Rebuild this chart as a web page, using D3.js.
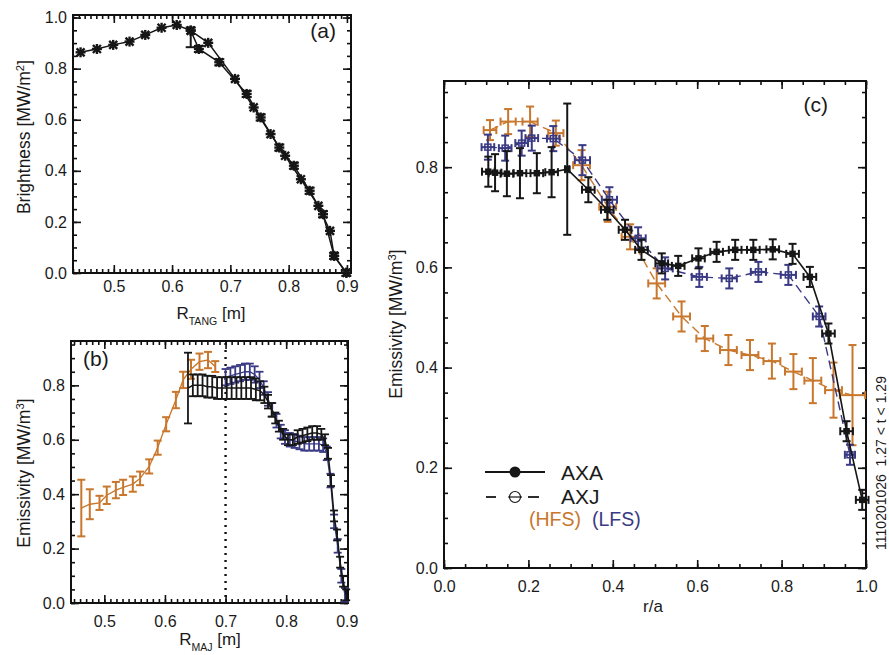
<!DOCTYPE html>
<html><head><meta charset="utf-8">
<script src="https://cdn.jsdelivr.net/npm/d3@7"></script>
<style>
body{margin:0;background:#fff;}
svg{display:block;font-family:"Liberation Sans",Arial,Helvetica,sans-serif;}
</style>
</head><body>
<svg id="chart" width="889" height="655"></svg>
<script>
// ---------------- DATA ----------------
// Panel (a): brightness vs R_TANG
const aXTicks = [0.5, 0.6, 0.7, 0.8, 0.9];
const aYTicks = [0.0, 0.2, 0.4, 0.6, 0.8, 1.0];
const aJx = [0.443,0.471,0.499,0.527,0.554,0.582,0.608,0.632,0.662,0.708,0.740,0.769,0.794,0.821,0.851,0.871,0.878,0.899];
const aJy = [0.864,0.877,0.893,0.906,0.932,0.960,0.971,0.949,0.901,0.760,0.648,0.544,0.459,0.367,0.263,0.165,0.067,0.001];
const aAx = [0.632,0.646,0.681,0.728,0.752,0.784,0.809,0.836,0.859,0.878,0.899];
const aAy = [0.949,0.877,0.825,0.701,0.609,0.491,0.420,0.322,0.230,0.067,0.001];
const aAeLo = [0.065,0.012,0.012,0.012,0.012,0.012,0.012,0.012,0.012,0.012,0.012];
const aAeHi = [0.012,0.012,0.012,0.012,0.012,0.012,0.012,0.012,0.012,0.012,0.012];

// Panel (b): emissivity vs R_MAJ
const bXTicks = [0.5, 0.6, 0.7, 0.8, 0.9];
const bYTicks = [0.0, 0.2, 0.4, 0.6, 0.8];
const bDotted = [0.7];
const bOx = [0.462,0.476,0.492,0.504,0.519,0.531,0.547,0.559,0.574,0.588,0.602,0.618,0.630,0.643,0.657,0.671,0.683];
const bOy = [0.349,0.363,0.368,0.396,0.415,0.425,0.437,0.458,0.502,0.571,0.657,0.746,0.820,0.859,0.887,0.893,0.869];
const bOe = [0.104,0.055,0.026,0.032,0.030,0.028,0.028,0.025,0.026,0.026,0.026,0.030,0.030,0.035,0.030,0.030,0.020];
const bAx = [0.638,0.646,0.654,0.662,0.670,0.678,0.686,0.694,0.702,0.710,0.718,0.726,0.734,0.742,0.750,
             0.757,0.764,0.770,0.776,0.782,0.788,
             0.795,0.803,0.811,0.819,0.827,0.835,0.843,0.851,0.858,
             0.864,0.869,0.874,0.879,0.884,0.889,0.894,0.899];
const bAy = [0.79,0.80,0.80,0.80,0.795,0.795,0.79,0.79,0.79,0.79,0.79,0.79,0.79,0.79,0.785,
             0.78,0.765,0.74,0.71,0.68,0.65,
             0.62,0.60,0.60,0.61,0.615,0.62,0.625,0.625,0.62,
             0.60,0.55,0.45,0.32,0.25,0.15,0.08,0.03];
const bAe = [0.13,0.04,0.04,0.04,0.04,0.04,0.04,0.04,0.04,0.04,0.04,0.04,0.04,0.04,0.04,
             0.035,0.03,0.025,0.025,0.02,0.02,
             0.02,0.02,0.02,0.025,0.025,0.025,0.025,0.025,0.02,
             0.02,0.02,0.02,0.02,0.02,0.02,0.02,0.02];
const bLx = [0.700,0.708,0.716,0.724,0.732,0.740,0.748,0.756,
             0.763,0.770,0.777,0.784,0.791,0.798,
             0.806,0.814,0.822,0.830,0.838,0.846,0.854,0.861,
             0.867,0.873,0.879,0.885,0.891,0.897];
const bLy = [0.83,0.835,0.84,0.845,0.85,0.85,0.84,0.82,
             0.79,0.75,0.71,0.67,0.63,0.61,
             0.60,0.595,0.59,0.585,0.585,0.585,0.585,0.58,
             0.55,0.45,0.30,0.21,0.10,0.03];
const bLe = [0.03,0.03,0.03,0.03,0.03,0.03,0.03,0.03,
             0.025,0.025,0.025,0.025,0.025,0.025,
             0.025,0.025,0.025,0.025,0.025,0.025,0.025,0.025,
             0.025,0.025,0.025,0.025,0.025,0.025];

// Panel (c): emissivity vs r/a
const cXTicks = [0.0, 0.2, 0.4, 0.6, 0.8, 1.0];
const cYTicks = [0.0, 0.2, 0.4, 0.6, 0.8];
const cAx = [0.105,0.121,0.149,0.180,0.220,0.255,0.292,0.342,0.387,0.429,0.468,0.516,0.555,0.603,0.646,0.690,0.733,0.779,0.826,0.867,0.911,0.954,0.991];
const cAy = [0.791,0.789,0.787,0.788,0.788,0.790,0.796,0.755,0.715,0.675,0.635,0.608,0.603,0.618,0.631,0.635,0.635,0.636,0.627,0.581,0.468,0.273,0.136];
const cAe = [0.030,0.037,0.045,0.050,0.040,0.050,0.131,0.025,0.020,0.020,0.020,0.020,0.020,0.020,0.020,0.020,0.020,0.020,0.020,0.020,0.020,0.020,0.020];
const cAxe = [0.015,0.015,0.015,0.015,0.015,0.015,0.005,0.015,0.015,0.015,0.015,0.015,0.015,0.015,0.015,0.015,0.015,0.015,0.015,0.015,0.015,0.015,0.015];
const cJx = [0.104,0.145,0.184,0.208,0.259,0.328,0.392,0.460,0.524,0.605,0.676,0.745,0.816,0.889,0.962];
const cJy = [0.840,0.838,0.848,0.858,0.857,0.814,0.735,0.658,0.598,0.581,0.578,0.591,0.585,0.502,0.226];
const cJe = [0.025,0.025,0.025,0.025,0.025,0.030,0.025,0.022,0.022,0.020,0.020,0.020,0.020,0.020,0.020];
const cJxe = [0.015,0.015,0.015,0.015,0.015,0.018,0.018,0.018,0.018,0.018,0.018,0.018,0.018,0.015,0.012];
const cHx = [0.109,0.152,0.204,0.265,0.326,0.388,0.441,0.504,0.563,0.618,0.674,0.725,0.777,0.828,0.874,0.923,0.968];
const cHy = [0.874,0.891,0.891,0.868,0.804,0.721,0.661,0.568,0.502,0.458,0.435,0.425,0.413,0.392,0.374,0.355,0.345];
const cHe = [0.020,0.025,0.030,0.025,0.030,0.030,0.025,0.030,0.030,0.025,0.030,0.030,0.035,0.035,0.045,0.055,0.100];
const cHxe = [0.015,0.018,0.018,0.018,0.020,0.020,0.020,0.020,0.020,0.020,0.020,0.020,0.020,0.020,0.020,0.020,0.030];

const legendNames = ["AXA", "AXJ"];
const sideNames = ["(HFS)", "(LFS)"];
const shotText = "1110201026  1.27 < t < 1.29";

// ---------------- STYLE ----------------
const ORANGE = "#c8772c", NAVY = "#3a3a84", BLACK = "#161616";
const svg = d3.select("#chart");
const fmt = d3.format(".1f");

function panel(o) {
  const w = o.right - o.left, h = o.bottom - o.top;
  const g = svg.append("g").attr("transform", `translate(${o.left},${o.top})`);
  const x = d3.scaleLinear().domain(o.xd).range([0, w]);
  const y = d3.scaleLinear().domain(o.yd).range([h, 0]);
  const inX = v => v >= o.xd[0] - 1e-9 && v <= o.xd[1] + 1e-9;
  const inY = v => v >= o.yd[0] - 1e-9 && v <= o.yd[1] + 1e-9;
  const xMin = d3.range(Math.ceil(o.xd[0] / o.xMinor), Math.floor(o.xd[1] / o.xMinor) + 1).map(k => +(k * o.xMinor).toFixed(4)).filter(inX);
  const yMin = d3.range(Math.ceil(o.yd[0] / o.yMinor), Math.floor(o.yd[1] / o.yMinor) + 1).map(k => +(k * o.yMinor).toFixed(4)).filter(inY);
  const ax = g.append("g").attr("class", "axes");
  ax.append("g").attr("transform", `translate(0,${h})`).call(d3.axisBottom(x).tickValues(o.xTicks).tickSize(-8).tickPadding(o.padX).tickFormat(fmt));
  ax.append("g").attr("transform", `translate(0,${h})`).call(d3.axisBottom(x).tickValues(xMin).tickSize(-4).tickFormat(""));
  ax.append("g").call(d3.axisTop(x).tickValues(o.xTicks).tickSize(-8).tickFormat(""));
  ax.append("g").call(d3.axisTop(x).tickValues(xMin).tickSize(-4).tickFormat(""));
  ax.append("g").call(d3.axisLeft(y).tickValues(o.yTicks).tickSize(-8).tickPadding(6).tickFormat(fmt));
  ax.append("g").call(d3.axisLeft(y).tickValues(yMin).tickSize(-4).tickFormat(""));
  ax.append("g").attr("transform", `translate(${w},0)`).call(d3.axisRight(y).tickValues(o.yTicks).tickSize(-8).tickFormat(""));
  ax.append("g").attr("transform", `translate(${w},0)`).call(d3.axisRight(y).tickValues(yMin).tickSize(-4).tickFormat(""));
  ax.selectAll(".domain").remove();
  ax.selectAll(".tick line").attr("stroke", "#111").attr("stroke-width", 1.6);
  ax.selectAll(".tick text").attr("font-size", 16).attr("fill", "#1a1a1a")
    .attr("font-family", '"Liberation Sans",Arial,sans-serif');
  g.append("rect").attr("x", 0).attr("y", 0).attr("width", w).attr("height", h)
    .attr("fill", "none").attr("stroke", "#111").attr("stroke-width", 2);
  return {g, x, y, w, h};
}

function line(p, xs, ys, color, sw, dash) {
  const pts = xs.map((v, i) => [v, ys[i]]);
  p.g.append("path").datum(pts)
    .attr("d", d3.line().x(d => p.x(d[0])).y(d => p.y(d[1])))
    .attr("fill", "none").attr("stroke", color).attr("stroke-width", sw)
    .attr("stroke-dasharray", dash || null);
}

function vErr(p, xs, ys, lo, hi, color, cap, sw) {
  const g = p.g.append("g").attr("stroke", color).attr("stroke-width", sw).attr("fill", "none");
  xs.forEach((v, i) => {
    const X = p.x(v), Y1 = p.y(ys[i] - lo[i]), Y2 = p.y(ys[i] + hi[i]);
    g.append("line").attr("x1", X).attr("x2", X).attr("y1", Y1).attr("y2", Y2);
    g.append("line").attr("x1", X - cap).attr("x2", X + cap).attr("y1", Y1).attr("y2", Y1);
    g.append("line").attr("x1", X - cap).attr("x2", X + cap).attr("y1", Y2).attr("y2", Y2);
  });
}

function hErr(p, xs, ys, e, color, cap, sw) {
  const g = p.g.append("g").attr("stroke", color).attr("stroke-width", sw).attr("fill", "none");
  xs.forEach((v, i) => {
    const Y = p.y(ys[i]), X1 = p.x(v - e[i]), X2 = p.x(v + e[i]);
    g.append("line").attr("x1", X1).attr("x2", X2).attr("y1", Y).attr("y2", Y);
    g.append("line").attr("x1", X1).attr("x2", X1).attr("y1", Y - cap).attr("y2", Y + cap);
    g.append("line").attr("x1", X2).attr("x2", X2).attr("y1", Y - cap).attr("y2", Y + cap);
  });
}

function stars(p, xs, ys, color) {
  const g = p.g.append("g").attr("stroke", color).attr("stroke-width", 2.4);
  xs.forEach((v, i) => {
    const X = p.x(v), Y = p.y(ys[i]), r = 5;
    g.append("line").attr("x1", X - r).attr("x2", X + r).attr("y1", Y).attr("y2", Y);
    g.append("line").attr("x1", X - r * 0.8).attr("x2", X + r * 0.8).attr("y1", Y - r * 0.8).attr("y2", Y + r * 0.8);
    g.append("line").attr("x1", X - r * 0.8).attr("x2", X + r * 0.8).attr("y1", Y + r * 0.8).attr("y2", Y - r * 0.8);
    g.append("line").attr("x1", X).attr("x2", X).attr("y1", Y - r).attr("y2", Y + r);
  });
}

function squares(p, xs, ys, color, filled, s) {
  p.g.append("g").selectAll("rect").data(xs).join("rect")
    .attr("x", (d) => p.x(d) - s / 2).attr("y", (d, i) => p.y(ys[i]) - s / 2)
    .attr("width", s).attr("height", s)
    .attr("fill", filled ? color : "none").attr("stroke", color).attr("stroke-width", 1.5);
}

function text(x, y, str, size, opts = {}) {
  const t = svg.append("text").attr("x", x).attr("y", y).attr("font-size", size)
    .attr("fill", opts.fill || "#1a1a1a").attr("text-anchor", opts.anchor || "start");
  if (opts.rotate) t.attr("transform", `rotate(-90,${x},${y})`);
  return t;
}

// ---------------- PANEL (a) ----------------
const pa = panel({left: 73, right: 351, top: 15, bottom: 273, xd: [0.43, 0.907], yd: [0, 1.01],
  xTicks: aXTicks, yTicks: aYTicks, xMinor: 0.01, yMinor: 0.05, padX: 8});
line(pa, aJx, aJy, BLACK, 1.5);
line(pa, aAx, aAy, BLACK, 1.5);
vErr(pa, aAx, aAy, aAeLo, aAeHi, BLACK, 5, 2);
stars(pa, aJx, aJy, BLACK);
stars(pa, aAx, aAy, BLACK);
text(336, 38, "(a)", 21, {anchor: "end"}).text("(a)");

// ---------------- PANEL (b) ----------------
const pb = panel({left: 71, right: 348, top: 341, bottom: 603, xd: [0.445, 0.902], yd: [0, 0.963],
  xTicks: bXTicks, yTicks: bYTicks, xMinor: 0.01, yMinor: 0.05, padX: 13});
pb.g.append("g").selectAll("line").data(bDotted).join("line")
  .attr("x1", d => pb.x(d)).attr("x2", d => pb.x(d)).attr("y1", 2).attr("y2", pb.h)
  .attr("stroke", "#111").attr("stroke-width", 2.4).attr("stroke-dasharray", "2,5");
line(pb, bOx, bOy, ORANGE, 1.3);
vErr(pb, bOx, bOy, bOe, bOe, ORANGE, 4, 2);
line(pb, bLx, bLy, NAVY, 1.3);
vErr(pb, bLx, bLy, bLe, bLe, NAVY, 4, 1.8);
line(pb, bAx, bAy, BLACK, 1.5);
vErr(pb, bAx, bAy, bAe, bAe, BLACK, 4, 1.8);
text(83, 366, "(b)", 21).text("(b)");

// ---------------- PANEL (c) ----------------
const pc = panel({left: 444, right: 866, top: 81, bottom: 568, xd: [0, 1], yd: [0, 0.972],
  xTicks: cXTicks, yTicks: cYTicks, xMinor: 0.05, yMinor: 0.05, padX: 13});
line(pc, cHx, cHy, ORANGE, 1.4, "9,5");
vErr(pc, cHx, cHy, cHe, cHe, ORANGE, 4, 2);
hErr(pc, cHx, cHy, cHxe, ORANGE, 4, 2);
line(pc, cJx, cJy, NAVY, 1.4, "9,5");
vErr(pc, cJx, cJy, cJe, cJe, NAVY, 4, 2);
hErr(pc, cJx, cJy, cJxe, NAVY, 4, 2);
squares(pc, cJx, cJy, NAVY, false, 6);
line(pc, cAx, cAy, BLACK, 1.6);
vErr(pc, cAx, cAy, cAe, cAe, BLACK, 4, 2);
hErr(pc, cAx, cAy, cAxe, BLACK, 4, 2);
squares(pc, cAx, cAy, BLACK, true, 5);
text(828, 112, "(c)", 21, {anchor: "end"}).text("(c)");

// legend
svg.append("line").attr("x1", 485).attr("x2", 545).attr("y1", 472).attr("y2", 472).attr("stroke", BLACK).attr("stroke-width", 1.8);
svg.append("circle").attr("cx", 515).attr("cy", 472).attr("r", 5.5).attr("fill", BLACK);
svg.append("line").attr("x1", 486).attr("x2", 496).attr("y1", 497).attr("y2", 497).attr("stroke", BLACK).attr("stroke-width", 1.8);
svg.append("line").attr("x1", 508).attr("x2", 522).attr("y1", 497).attr("y2", 497).attr("stroke", BLACK).attr("stroke-width", 1.2);
svg.append("line").attr("x1", 528).attr("x2", 539).attr("y1", 497).attr("y2", 497).attr("stroke", BLACK).attr("stroke-width", 1.8);
svg.append("circle").attr("cx", 515).attr("cy", 497).attr("r", 5.5).attr("fill", "none").attr("stroke", BLACK).attr("stroke-width", 1.2);
text(561, 480, "", 21).text(legendNames[0]);
text(561, 504, "", 21).text(legendNames[1]);
text(529, 526, "", 19.5, {fill: ORANGE}).text(sideNames[0]);
text(592, 526, "", 19.5, {fill: NAVY}).text(sideNames[1]);

// ---------------- AXIS TITLES ----------------
function ylab(x, y, main, sup, size) {
  const t = text(x, y, "", size, {anchor: "middle", rotate: true});
  t.append("tspan").text(main);
  t.append("tspan").attr("baseline-shift", "super").attr("font-size", size * 0.65).text(sup);
  t.append("tspan").text("]");
}
ylab(30, 137, "Brightness [MW/m", "2", 17.5);
ylab(30, 473, "Emissivity [MW/m", "3", 17.5);
ylab(402, 324, "Emissivity [MW/m", "3", 17.5);

function xlab(x, y, main, sub, rest, size) {
  const t = text(x, y, "", size, {anchor: "middle"});
  t.append("tspan").text(main);
  t.append("tspan").attr("baseline-shift", "sub").attr("font-size", size * 0.62).text(sub);
  t.append("tspan").text(rest);
}
xlab(211, 319, "R", "TANG", " [m]", 17);
xlab(210, 645, "R", "MAJ", " [m]", 17);
text(653, 612, "", 17, {anchor: "middle"}).text("r/a");

// side annotation
text(886, 463, "", 14, {anchor: "middle", rotate: true}).attr("xml:space", "preserve").style("white-space", "pre").text(shotText);
</script>
</body></html>
